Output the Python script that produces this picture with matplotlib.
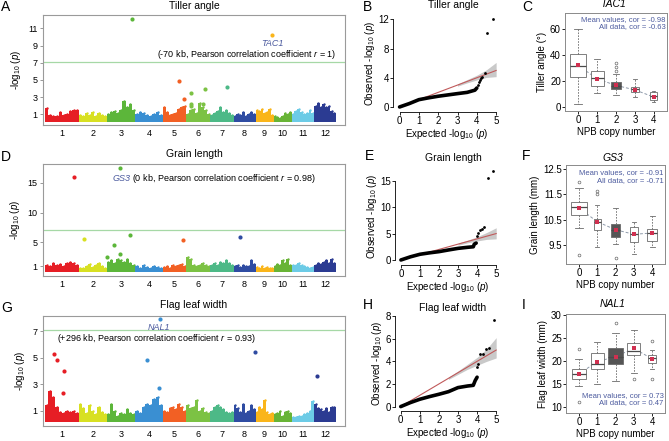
import numpy as np
import matplotlib
matplotlib.use('Agg')
import matplotlib.pyplot as plt

plt.rcParams['font.family'] = 'Liberation Sans'
plt.rcParams['mathtext.fontset'] = 'custom'
plt.rcParams['mathtext.rm'] = 'Liberation Sans'
plt.rcParams['mathtext.it'] = 'Liberation Sans:italic'

W, H = 669, 441

# ---- data ----
chrom_len = [43.3, 35.9, 36.4, 35.5, 29.9, 31.2, 29.7, 28.4, 23.0, 23.2, 29.0, 27.5]
chrom_col = ['#e61e25', '#d8e022', '#5cb63a', '#3a8fd2', '#f26024', '#7cc244',
             '#4db987', '#2f4ca2', '#fab51a', '#68b436', '#6ccbe6', '#2b3b92']

# upper envelope of the dense band, per chromosome
A_prof = [[1.7, 0.9, 0.8, 0.8, 1.3, 0.9, 1.0, 1.4, 1.5, 1.5],
          [0.9, 0.8, 1.1, 0.9, 1.3, 0.8, 1.2, 0.9, 0.8],
          [1.0, 1.3, 1.4, 1.2, 1.5, 2.6, 1.8, 2.2, 1.5],
          [1.0, 1.3, 1.1, 0.9, 0.8, 1.0, 1.3, 0.9],
          [1.8, 1.3, 0.9, 1.0, 1.2, 1.6, 1.8, 2.0],
          [1.0, 1.5, 1.6, 1.2, 2.3, 1.8, 1.5, 1.0],
          [0.9, 1.2, 1.4, 1.8, 1.3, 1.5, 1.2, 0.9],
          [0.8, 1.0, 0.9, 1.3, 0.8, 1.0, 1.3, 1.0],
          [1.5, 1.4, 1.6, 1.2, 1.3, 1.6, 0.9],
          [0.8, 0.7, 0.6, 0.8, 1.1, 1.0, 1.3],
          [1.0, 1.4, 1.6, 1.3, 1.0, 1.2, 1.5, 1.2],
          [2.0, 2.3, 1.9, 2.2, 1.8, 2.0, 1.4, 1.2]]
A_hit_chr = [3, 9, 5, 5, 6, 6, 7, 6, 6, 6]
A_hit_pos = [32, 20.5, 21, 27, 6, 24, 21, 6, 6.5, 22]
A_hit_val = [12.1, 10.2, 4.9, 2.8, 3.5, 3.9, 4.15, 2.2, 1.95, 2.2]

D_prof = [[1.3, 1.0, 1.5, 1.2, 1.4, 1.0, 1.6, 1.8, 1.5, 1.2],
          [0.8, 0.7, 1.0, 1.4, 0.9, 1.2, 1.5, 1.0, 0.8],
          [1.8, 2.1, 1.6, 2.3, 2.0, 1.7, 2.2, 1.5, 1.2],
          [1.0, 0.8, 1.2, 0.9, 0.8, 1.1, 0.9, 0.8],
          [0.9, 1.1, 0.8, 1.3, 1.0, 1.2, 1.4, 1.1],
          [2.6, 2.2, 1.2, 1.0, 1.3, 1.5, 1.2, 1.0],
          [1.2, 1.5, 1.3, 1.8, 1.5, 2.0, 1.6, 1.3],
          [1.0, 1.2, 0.9, 1.3, 1.0, 1.1, 2.1, 1.4],
          [0.9, 0.8, 1.0, 0.8, 0.9, 0.8, 0.7],
          [1.0, 1.4, 1.2, 2.0, 1.5, 2.3, 1.3],
          [1.3, 1.2, 1.5, 1.3, 1.0, 0.9, 0.8, 0.9],
          [1.2, 1.6, 1.4, 1.8, 2.0, 1.5, 2.2, 1.6]]
D_hit_chr = [1, 3, 2, 3, 3, 3, 3, 5, 8]
D_hit_pos = [37.6, 17.2, 6.4, 9.4, 30.1, 17.2, 0.8, 26.2, 8.8]
D_hit_val = [16.0, 17.45, 5.6, 4.6, 6.2, 3.1, 2.5, 5.45, 5.9]

G_prof = [[1.4, 2.5, 2.0, 1.3, 0.9, 0.8, 1.0, 0.9, 1.0, 0.8],
          [1.5, 1.2, 0.8, 1.4, 1.0, 0.7, 1.3, 0.9, 0.7],
          [0.7, 1.5, 1.0, 0.6, 0.8, 0.7, 1.1, 0.8, 0.7],
          [1.0, 0.8, 1.3, 1.5, 1.4, 1.9, 2.0, 1.4],
          [1.0, 0.9, 1.2, 1.3, 1.1, 1.5, 1.3, 1.0],
          [1.4, 1.2, 1.3, 1.8, 1.0, 1.2, 0.9, 0.8],
          [1.0, 1.3, 1.4, 1.3, 1.1, 0.9, 0.8, 0.9],
          [1.4, 1.2, 0.9, 1.5, 0.8, 1.0, 1.4, 1.1],
          [0.9, 1.3, 1.1, 1.8, 0.9, 0.7, 0.8],
          [0.7, 0.8, 1.0, 0.6, 0.9, 1.0, 0.8],
          [0.5, 0.5, 0.6, 0.6, 0.7, 0.8, 1.0, 1.7],
          [1.5, 1.2, 1.1, 1.0, 1.2, 0.9, 1.3, 1.3]]
G_hit_chr = [4, 4, 4, 1, 1, 1, 1, 8, 12]
G_hit_pos = [31.4, 15.4, 30.1, 12.1, 15.2, 24.6, 23.7, 27.8, 3.4]
G_hit_val = [7.9, 4.83, 2.67, 5.3, 4.85, 4.0, 2.32, 5.4, 3.6]

# QQ plots: dense body, tail points, confidence band
B_exp = [0, 0.5, 1, 1.5, 2, 2.5, 3, 3.5, 3.9, 4.0]
B_obs = [0, 0.46, 1.0, 1.25, 1.47, 1.65, 1.83, 2.0, 2.3, 2.6]
B_tail_exp = [4.05, 4.1, 4.15, 4.2, 4.25, 4.4, 4.55, 4.85]
B_tail_obs = [3.0, 3.4, 3.7, 3.9, 4.1, 4.7, 10.1, 12.1]
B_band_x = [3, 3.5, 4, 4.5, 5]
B_band_lo = [2.85, 3.3, 3.7, 4.05, 4.15]
B_band_hi = [3.15, 3.75, 4.35, 5.1, 6.1]

E_exp = [0, 0.5, 1, 1.5, 2, 2.5, 3, 3.5, 3.8, 3.85, 3.95]
E_obs = [0, 0.6, 1.08, 1.35, 1.58, 1.9, 2.2, 2.4, 2.5, 3.0, 3.2]
E_tail_exp = [4.0, 4.05, 4.15, 4.25, 4.35, 4.55, 4.85]
E_tail_obs = [4.6, 5.2, 5.6, 5.9, 6.2, 15.6, 16.9]
E_band_x = [3, 3.5, 4, 4.5, 5]
E_band_lo = [2.8, 3.25, 3.6, 3.9, 4.0]
E_band_hi = [3.2, 3.75, 4.4, 5.2, 6.1]

H_exp = [0, 0.5, 1, 1.5, 2, 2.5, 3, 3.5, 3.8, 3.9, 4.0]
H_obs = [0, 0.35, 0.65, 0.88, 1.09, 1.32, 1.68, 1.82, 1.88, 2.3, 2.6]
H_tail_exp = [4.0, 4.05, 4.15, 4.3, 4.45, 4.6, 4.9]
H_tail_obs = [3.5, 3.8, 4.65, 4.65, 5.1, 5.2, 7.7]
H_band_x = [2.5, 3, 3.5, 4, 4.5, 5]
H_band_lo = [2.4, 2.85, 3.3, 3.65, 4.0, 4.3]
H_band_hi = [2.6, 3.15, 3.75, 4.35, 5.1, 6.1]
qq_ref = [0, 5]

# box plots by NPB copy number 0..4
copy_num = [0, 1, 2, 3, 4]
C_whislo = [2, 10.4, 9, 7.8, 3.5]
C_q1 = [22.8, 16, 13.5, 11.6, 5.2]
C_med = [31.5, 22, 16, 13.5, 8]
C_q3 = [40.8, 27.7, 19.4, 15.5, 11]
C_whishi = [60, 37, 25.5, 21.5, 12]
C_fliers = [[], [], [27.5, 30.5, 33.5], [], []]
C_mean = [32, 21.5, 16.5, 13, 7.5]

F_whislo = [10.17, 9.41, 9.54, 9.14, 9.43]
F_q1 = [10.67, 10.07, 9.81, 9.61, 9.67]
F_med = [11.0, 10.4, 10.1, 9.94, 9.97]
F_q3 = [11.21, 10.54, 10.34, 10.2, 10.14]
F_whishi = [11.77, 11.1, 10.97, 10.4, 10.63]
F_fliers = [[12.0, 9.1], [11.5, 11.62], [8.98], [], []]
F_mean = [10.97, 10.42, 10.1, 9.92, 9.97]

I_whislo = [14.4, 14.9, 15.5, 17.4, 18.1]
I_q1 = [16.1, 18.1, 19.2, 21.2, 19.6]
I_med = [17.05, 19.2, 20.9, 22.2, 20.5]
I_q3 = [18.1, 21.6, 22.7, 23.9, 21.2]
I_whishi = [20.3, 24.2, 26.0, 26.8, 22.4]
I_fliers = [[22.6, 11.1], [], [28.2], [16.1], [24.4, 16.1]]
I_mean = [17.1, 19.8, 20.9, 22.7, 20.4]

C_w = [0.85, 0.7, 0.53, 0.45, 0.36]
F_w = [0.85, 0.38, 0.53, 0.44, 0.55]
I_w = [0.76, 0.7, 0.78, 0.7, 0.44]

BLUE = '#4b5a9e'
fig = plt.figure(figsize=(W / 100, H / 100), dpi=100)


def add_ax(l, t, r, b):
    return fig.add_axes([l / W, 1 - b / H, (r - l) / W, (b - t) / H])


def ftext(x, y, s, **kw):
    fig.text(x / W, 1 - y / H, s, **kw)


def manhattan(ax, prof, base, hc, hp, hv, ylim, yticks):
    starts = np.concatenate([[0], np.cumsum(chrom_len)[:-1]])
    for i, p in enumerate(prof):
        n = len(p)
        step = chrom_len[i] / n
        xs = starts[i] + step * (np.arange(n) + 0.5)
        ax.bar(xs, np.array(p) - base, bottom=base, width=step, color=chrom_col[i], lw=0)
        ax.scatter(xs, p, s=3, color=chrom_col[i], lw=0)
    for c, pos, v in zip(hc, hp, hv):
        ax.scatter(starts[c - 1] + pos, v, s=9, color=chrom_col[c - 1], lw=0, zorder=3)
    ax.axhline(7.05, color='#a6d8a6', lw=0.9)
    ax.set_xlim(-2.6, 385)
    ax.set_ylim(*ylim)
    ax.set_yticks(yticks)
    ax.set_xticks(starts + np.array(chrom_len) / 2)
    ax.set_xticklabels([str(i + 1) for i in range(12)])
    ax.tick_params(axis='x', length=0, labelsize=6.5, pad=3)
    ax.tick_params(axis='y', length=2, width=0.6, labelsize=6.5, pad=2, color='#888888')
    for s in ax.spines.values():
        s.set_color('#9a9a9a')
        s.set_linewidth(0.8)
    ax.set_ylabel('-log$_{10}$ ($p$)', fontsize=7)


def qq(ax, ex, ob, tx, to, bx, blo, bhi, xlim, ylim, yticks):
    ax.fill_between(bx, blo, bhi, color='#c9c9c9', lw=0)
    ax.plot(qq_ref, qq_ref, color='#c0595a', lw=0.8)
    ax.plot(ex, ob, color='black', lw=2.6, solid_capstyle='round')
    ax.scatter(tx, to, s=4, color='black', lw=0, zorder=3)
    ax.set_xlim(*xlim)
    ax.set_ylim(*ylim)
    ax.set_xticks(range(6))
    ax.set_yticks(yticks)
    ax.spines['top'].set_visible(False)
    ax.spines['right'].set_visible(False)
    ax.spines['bottom'].set_bounds(0, 5)
    ax.spines['left'].set_bounds(yticks[0], yticks[-1])
    for s in ('left', 'bottom'):
        ax.spines[s].set_linewidth(0.6)
    ax.tick_params(length=2, width=0.6, labelsize=7, pad=1)
    ax.set_xlabel('Expected -log$_{10}$ ($p$)', fontsize=7, labelpad=0.5)
    ax.set_ylabel('Observed -log$_{10}$ ($p$)', fontsize=7, labelpad=1)


def boxes(ax, wl, q1, md, q3, wh, fl, mn, widths, ylim, yticks, ylabel):
    stats = []
    for i in range(5):
        stats.append(dict(whislo=wl[i], q1=q1[i], med=md[i], q3=q3[i], whishi=wh[i],
                          fliers=fl[i], mean=mn[i]))
    bp = ax.bxp(stats, positions=copy_num, widths=widths, patch_artist=True,
                showmeans=False, capwidths=[w * 0.5 for w in widths],
                boxprops=dict(edgecolor='#6a6a6a', linewidth=0.6),
                whiskerprops=dict(color='#6a6a6a', linewidth=0.6, linestyle=(0, (2, 1.5))),
                capprops=dict(color='#6a6a6a', linewidth=0.6),
                medianprops=dict(color='#4a4a4a', linewidth=0.9),
                flierprops=dict(marker='o', markersize=2, markerfacecolor='none',
                                markeredgecolor='#6a6a6a', markeredgewidth=0.5))
    for i, patch in enumerate(bp['boxes']):
        patch.set_facecolor('#555555' if i == 2 else 'white')
    ax.plot(copy_num, mn, color='#8e9aaa', lw=0.7, ls=(0, (3, 2)), zorder=1)
    ax.scatter(copy_num, mn, marker='s', s=6, color='#d03050', lw=0, zorder=4)
    ax.set_xlim(-0.7, 4.7)
    ax.set_ylim(*ylim)
    ax.set_yticks(yticks)
    ax.set_xticks(copy_num)
    ax.set_xticklabels([str(c) for c in copy_num])
    for s in ax.spines.values():
        s.set_color('#8a8a8a')
        s.set_linewidth(0.7)
    ax.tick_params(length=2, width=0.6, labelsize=7, pad=1)
    ax.set_xlabel('NPB copy number', fontsize=7, labelpad=1)
    ax.set_ylabel(ylabel, fontsize=7, labelpad=2)


# ---- Manhattan plots ----
axA = add_ax(43, 15, 345, 125)
manhattan(axA, A_prof, 0.15, A_hit_chr, A_hit_pos, A_hit_val, (-0.24, 12.55), [1, 3, 5, 7, 9, 11])
axA.text(291.8, 9.2, 'TAC1', color=BLUE, style='italic', fontsize=6.5, ha='center', va='center')
axA.text(259.4, 7.95, '(-70 kb, Pearson correlation coefficient $r$ = 1)', fontsize=6.5,
         ha='center', va='center')

axD = add_ax(43, 164, 345, 276)
manhattan(axD, D_prof, 0.0, D_hit_chr, D_hit_pos, D_hit_val, (-0.6, 18.1), [1, 5, 10, 15])
axD.text(86.5, 15.6, 'GS3', color=BLUE, style='italic', fontsize=6.5, ha='left', va='center')
axD.text(112, 15.6, '(0 kb, Pearson correlation coefficient $r$ = 0.98)', fontsize=6.5,
         ha='left', va='center')

axG = add_ax(43, 316, 345, 426)
manhattan(axG, G_prof, 0.1, G_hit_chr, G_hit_pos, G_hit_val, (-0.17, 8.14), [1, 3, 5, 7])
axG.text(146.6, 7.3, 'NAL1', color=BLUE, style='italic', fontsize=6.5, ha='center', va='center')
axG.text(142.7, 6.45, '(+296 kb, Pearson correlation coefficient $r$ = 0.93)', fontsize=6.5,
         ha='center', va='center')

# ---- QQ plots ----
axB = add_ax(393, 15, 500, 112)
qq(axB, B_exp, B_obs, B_tail_exp, B_tail_obs, B_band_x, B_band_lo, B_band_hi,
   (-0.34, 5.2), (-0.69, 12.6), [0, 4, 8, 12])
axE = add_ax(395, 167, 500, 265)
qq(axE, E_exp, E_obs, E_tail_exp, E_tail_obs, E_band_x, E_band_lo, E_band_hi,
   (-0.31, 5.2), (-0.95, 17.6), [0, 5, 10, 15])
axH = add_ax(395, 315, 500, 411)
qq(axH, H_exp, H_obs, H_tail_exp, H_tail_obs, H_band_x, H_band_lo, H_band_hi,
   (-0.3, 5.2), (-0.39, 8.1), [0, 2, 4, 6, 8])

# ---- box plots ----
axC = add_ax(565, 13, 667, 111)
boxes(axC, C_whislo, C_q1, C_med, C_q3, C_whishi, C_fliers, C_mean, C_w,
      (-3.3, 72.4), [0, 20, 40, 60], 'Tiller angle (°)')
axC.text(0.985, 0.93, 'Mean values, cor = -0.98', transform=axC.transAxes, ha='right',
         va='center', fontsize=5.5, color=BLUE)
axC.text(0.985, 0.86, 'All data, cor = -0.63', transform=axC.transAxes, ha='right',
         va='center', fontsize=5.5, color=BLUE)

axF = add_ax(566, 165, 665, 264)
boxes(axF, F_whislo, F_q1, F_med, F_q3, F_whishi, F_fliers, F_mean, F_w,
      (8.74, 12.67), [9.5, 10.5, 11.5, 12.5], 'Grain length (mm)')
axF.text(0.985, 0.92, 'Mean values, cor = -0.91', transform=axF.transAxes, ha='right',
         va='center', fontsize=5.5, color=BLUE)
axF.text(0.985, 0.845, 'All data, cor = -0.71', transform=axF.transAxes, ha='right',
         va='center', fontsize=5.5, color=BLUE)

axI = add_ax(566, 314, 665, 413)
boxes(axI, I_whislo, I_q1, I_med, I_q3, I_whishi, I_fliers, I_mean, I_w,
      (8.6, 30.2), [10, 15, 20, 25, 30], 'Flag leaf width (mm)')
axI.text(0.985, 0.18, 'Mean values, cor = 0.73', transform=axI.transAxes, ha='right',
         va='center', fontsize=5.5, color=BLUE)
axI.text(0.985, 0.105, 'All data, cor = 0.47', transform=axI.transAxes, ha='right',
         va='center', fontsize=5.5, color=BLUE)

# ---- titles and panel letters ----
for x, y, s in [(194, 6, 'Tiller angle'), (453, 5, 'Tiller angle'),
                (194, 154, 'Grain length'), (453, 158, 'Grain length'),
                (194, 305, 'Flag leaf width'), (453, 308, 'Flag leaf width')]:
    ftext(x, y, s, fontsize=7.5, ha='center', va='center')
for x, y, s in [(613, 4, 'TAC1'), (613, 158, 'GS3'), (613, 304, 'NAL1')]:
    ftext(x, y, s, fontsize=7.5, ha='center', va='center', style='italic')
for x, y, s in [(1, 7, 'A'), (363, 7, 'B'), (522, 7, 'C'),
                (1, 157, 'D'), (365, 156, 'E'), (522, 156, 'F'),
                (1, 308, 'G'), (363, 305, 'H'), (522, 305, 'I')]:
    ftext(x, y, s, fontsize=10, ha='left', va='center')

fig.savefig('out.png', dpi=100)
